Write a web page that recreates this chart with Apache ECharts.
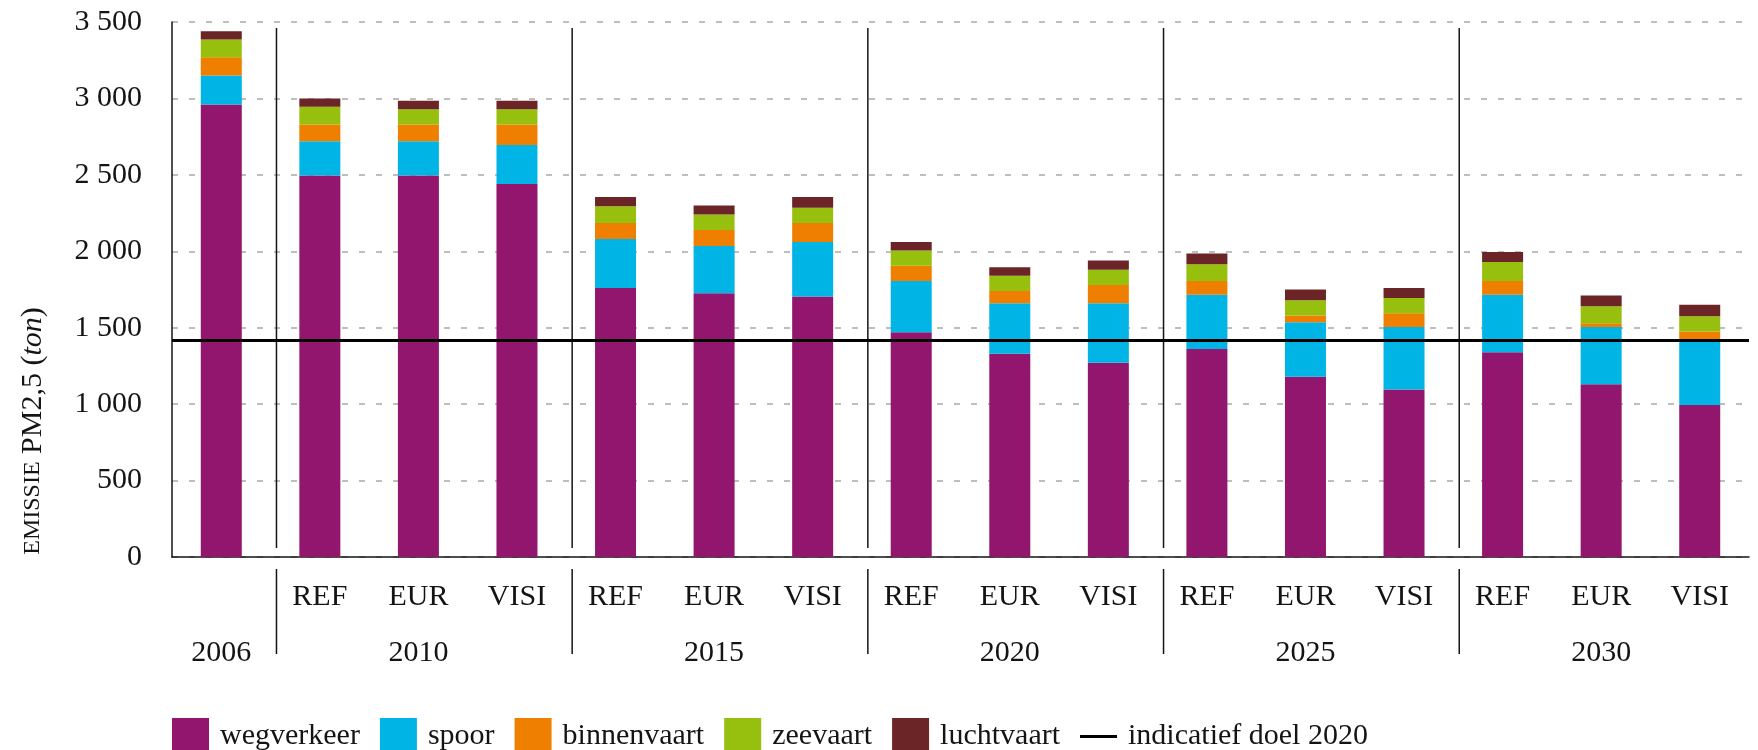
<!DOCTYPE html>
<html>
<head>
<meta charset="utf-8">
<title>Emissie PM2,5</title>
<script src="https://cdn.jsdelivr.net/npm/echarts@6.0.0/dist/echarts.min.js"></script>
<style>
html, body { margin: 0; padding: 0; background: #fff; }
#chart { width: 1758px; height: 750px; }
</style>
</head>
<body>
<div id="chart"></div>
<script>
var scenarioLabels = ['', 'REF', 'EUR', 'VISI', 'REF', 'EUR', 'VISI', 'REF', 'EUR', 'VISI', 'REF', 'EUR', 'VISI', 'REF', 'EUR', 'VISI'];
var yearLabels = ['2006', '', '2010', '', '', '2015', '', '', '2020', '', '', '2025', '', '', '2030', ''];
var groupStarts = [1, 4, 7, 10, 13]; // eerste staaf van elk jaarblok

var wegverkeer  = [2960, 2495, 2495, 2440, 1760, 1725, 1705, 1470, 1330, 1270, 1360, 1180, 1095, 1340, 1130, 995];
var spoor       = [190, 225, 225, 255, 320, 310, 355, 335, 330, 390, 355, 355, 410, 375, 375, 430];
var binnenvaart = [120, 110, 110, 135, 105, 105, 125, 100, 80, 120, 90, 45, 90, 90, 25, 50];
var zeevaart    = [115, 115, 100, 100, 110, 100, 100, 100, 100, 100, 110, 100, 100, 125, 110, 100];
var luchtvaart  = [55, 55, 55, 55, 60, 60, 70, 55, 55, 60, 70, 70, 65, 65, 70, 75];
var doel2020 = 1415;

var yTicks = [0, 500, 1000, 1500, 2000, 2500, 3000, 3500];

var FONT = '"Liberation Serif", "DejaVu Serif", serif';
var INK = '#141414';
var FS = 30;

function fmtThousands(v) {
    if (v >= 1000) {
        var rest = String(v % 1000);
        while (rest.length < 3) rest = '0' + rest;
        return Math.floor(v / 1000) + ' ' + rest;
    }
    return String(v);
}

function barSeries(name, data, color) {
    return {
        name: name,
        type: 'bar',
        stack: 'totaal',
        barWidth: 41,
        data: data,
        itemStyle: { color: color },
        emphasis: { disabled: true }
    };
}

var chart = echarts.init(document.getElementById('chart'), null, { renderer: 'canvas' });

var option = {
    animation: false,
    textStyle: { fontFamily: FONT, color: INK },
    grid: { left: 172, right: 9, top: 22, bottom: 193, containLabel: false },
    legend: {
        left: 172,
        top: 718,
        padding: 0,
        itemWidth: 37,
        itemHeight: 37,
        itemGap: 20,
        symbolKeepAspect: true,
        textStyle: { fontFamily: FONT, fontSize: FS, color: INK, padding: [0, 0, 0, 6] },
        data: [
            { name: 'wegverkeer', icon: 'rect' },
            { name: 'spoor', icon: 'rect' },
            { name: 'binnenvaart', icon: 'rect' },
            { name: 'zeevaart', icon: 'rect' },
            { name: 'luchtvaart', icon: 'rect' },
            { name: 'indicatief doel 2020', icon: 'path://M0,0H38V3H0Z' }
        ]
    },
    xAxis: [
        {
            type: 'category',
            data: scenarioLabels,
            axisLine: { lineStyle: { color: INK, width: 1.5 } },
            axisTick: { show: false },
            axisLabel: { interval: 0, margin: 25, fontFamily: FONT, fontSize: FS, color: INK }
        },
        {
            type: 'category',
            position: 'bottom',
            offset: 56,
            data: yearLabels,
            axisLine: { show: false },
            axisTick: { show: false },
            axisLabel: { interval: 0, margin: 25, fontFamily: FONT, fontSize: FS, color: INK }
        }
    ],
    yAxis: {
        type: 'value',
        min: yTicks[0],
        max: yTicks[yTicks.length - 1],
        interval: 500,
        axisLine: { show: true, lineStyle: { color: INK, width: 1.5 } },
        axisTick: { show: false },
        axisLabel: { margin: 30, fontFamily: FONT, fontSize: FS, color: INK, formatter: fmtThousands },
        splitLine: { show: true, lineStyle: { color: '#a9a9a9', width: 1.5, type: [6, 11] } }
    },
    graphic: [
        {
            type: 'text',
            x: 33,
            y: 431,
            rotation: Math.PI / 2,
            style: {
                text: '{sc|EMISSIE} PM2,5 ({it|ton})',
                fontFamily: FONT,
                fontSize: FS,
                fill: INK,
                align: 'center',
                verticalAlign: 'middle',
                rich: {
                    sc: { fontFamily: FONT, fontSize: 24, fill: INK },
                    it: { fontFamily: FONT, fontSize: FS, fontStyle: 'italic', fill: INK }
                }
            }
        }
    ],
    series: [
        barSeries('wegverkeer', wegverkeer, '#92166e'),
        barSeries('spoor', spoor, '#00b5e6'),
        barSeries('binnenvaart', binnenvaart, '#ee7f00'),
        barSeries('zeevaart', zeevaart, '#97bf0d'),
        barSeries('luchtvaart', luchtvaart, '#6c2527'),
        {
            name: 'indicatief doel 2020',
            type: 'line',
            data: [],
            symbol: 'none',
            lineStyle: { color: '#000', width: 3 },
            itemStyle: { color: '#000' },
            markLine: {
                silent: true,
                symbol: 'none',
                label: { show: false },
                lineStyle: { color: '#000', width: 3, type: 'solid' },
                data: [{ yAxis: doel2020 }]
            }
        },
        {
            name: 'scheiding',
            type: 'custom',
            xAxisIndex: 0,
            silent: true,
            data: groupStarts.map(function (i) { return [i]; }),
            renderItem: function (params, api) {
                var idx = api.value(0);
                var band = api.size([1, 0])[0];
                var base = api.coord([idx, 0]);
                var x = base[0] - band / 2 + band * 0.06;
                var yTop = api.coord([idx, yTicks[yTicks.length - 1]])[1];
                var st = { stroke: INK, lineWidth: 1.5 };
                return {
                    type: 'group',
                    children: [
                        { type: 'line', shape: { x1: x, y1: yTop + 6, x2: x, y2: base[1] - 9 }, style: st },
                        { type: 'line', shape: { x1: x, y1: base[1] + 12, x2: x, y2: base[1] + 97 }, style: st }
                    ]
                };
            }
        }
    ]
};

chart.setOption(option);
</script>
</body>
</html>
